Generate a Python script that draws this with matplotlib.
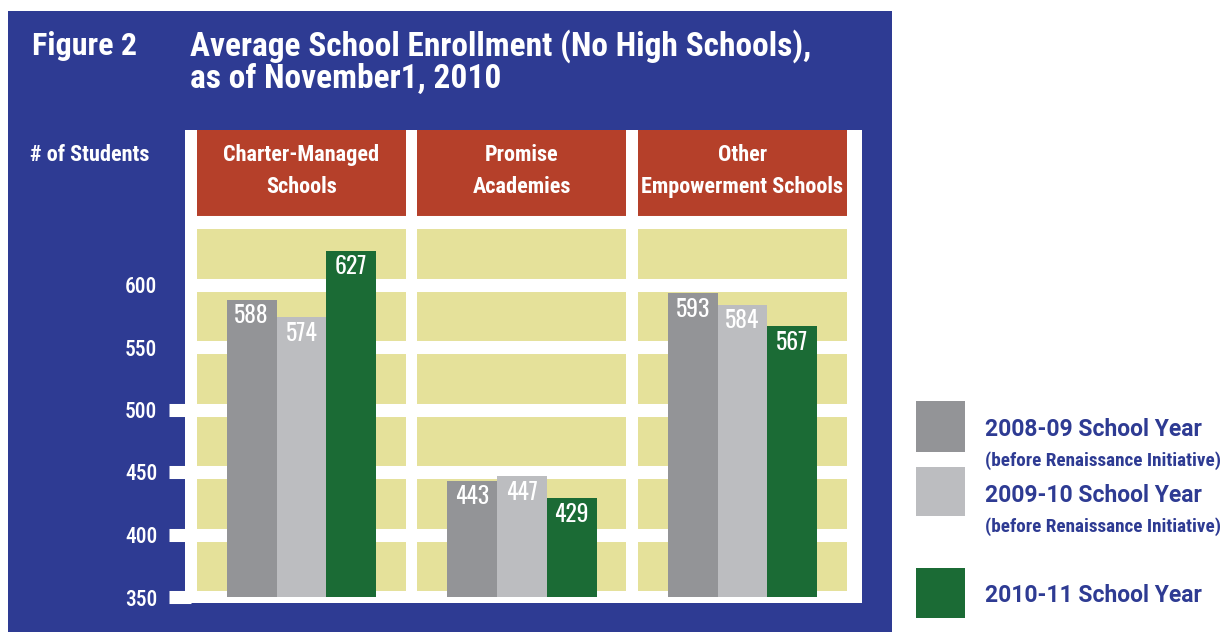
import matplotlib
matplotlib.use("Agg")
import matplotlib.pyplot as plt
from matplotlib.patches import Rectangle

# data
categories = ["Charter-Managed\nSchools", "Promise\nAcademies", "Other\nEmpowerment Schools"]
years = ["2008-09 School Year", "2009-10 School Year", "2010-11 School Year"]
notes = ["(before Renaissance Initiative)", "(before Renaissance Initiative)", ""]
y0809 = [588, 443, 593]
y0910 = [574, 447, 584]
y1011 = [627, 429, 567]
yticks = [350, 400, 450, 500, 550, 600]

BLUE = "#2E3B93"
RED = "#B5402A"
YELLOW = "#E5E19A"
colors = ["#939497", "#BCBDC0", "#1B6B35"]
COND = "Roboto Condensed"

W, H = 1231, 632
fig = plt.figure(figsize=(W / 100, H / 100), dpi=100)
fig.patch.set_facecolor("white")


def fx(x):
    return x / W


def fy(y):
    return 1 - y / H


# blue panel
fig.add_artist(Rectangle((fx(8), 0), fx(892) - fx(8), fy(11), transform=fig.transFigure,
                         facecolor=BLUE, edgecolor="none", zorder=0))

fig.text(fx(32), fy(46), "Figure 2", color="white", family=COND, weight="bold",
         fontsize=23, va="center", ha="left")
fig.text(fx(190), fy(46), "Average School Enrollment (No High Schools),", color="white",
         family=COND, weight="bold", fontsize=24, va="center", ha="left")
fig.text(fx(190), fy(79), "as of November1, 2010", color="white",
         family=COND, weight="bold", fontsize=24, va="center", ha="left")
fig.text(fx(30), fy(155), "# of Students", color="white", family=COND, weight="bold",
         fontsize=16, va="center", ha="left")

# plot area
ax = fig.add_axes([fx(185), fy(603), fx(862) - fx(185), fy(130) - fy(603)])
ax.set_facecolor("white")
ax.set_zorder(1)
ax.set_xlim(-0.528, 2.542)
ax.set_ylim(345.2, 723.6)
for s in ax.spines.values():
    s.set_visible(False)

xs = list(range(len(categories)))
colw = 0.948
ax.bar(xs, [300] * 3, bottom=350, width=colw, color=YELLOW, zorder=1)
ax.bar(xs, [80] * 3, bottom=650, width=colw, color=RED, zorder=1)

for v in range(350, 651, 50):
    ax.axhline(v, color="white", lw=9.4, zorder=2)
# tick stubs on the left
ax.hlines([350, 400, 450, 500], -0.6, -0.5, color="white", lw=9.4, clip_on=False, zorder=2)

bw = 0.226
for k, (vals, c) in enumerate(zip([y0809, y0910, y1011], colors)):
    pos = [x + (k - 1) * bw for x in xs]
    ax.bar(pos, [v - 350 for v in vals], bottom=350, width=bw, color=c, zorder=3)
    for p, v in zip(pos, vals):
        ax.text(p, v - 13, str(v), color="white", family="Oswald", weight="bold",
                fontsize=17, ha="center", va="center", zorder=4)

for x, name in zip(xs, categories):
    ax.text(x, 690.5, name, color="white", family=COND, weight="bold", fontsize=16,
            ha="center", va="center", linespacing=1.6, zorder=4)

ax.set_xticks([])
ax.set_yticks(yticks)
ax.set_yticklabels([str(t) for t in yticks], color="white", family=COND,
                   fontweight="medium", fontsize=15.5)
ax.tick_params(axis="y", length=0, pad=20)

# legend
leg_y = [(401, 452), (467, 516), (568, 618)]
text_y = [430, 496, 595]
for (t, b), c, ty, name, note in zip(leg_y, colors, text_y, years, notes):
    fig.add_artist(Rectangle((fx(916), fy(b)), fx(965) - fx(916), fy(t) - fy(b),
                             transform=fig.transFigure, facecolor=c, edgecolor="none"))
    fig.text(fx(985), fy(ty), name, color=BLUE, family="Roboto", weight="bold",
             fontsize=16.5, va="center", ha="left")
    if note:
        fig.text(fx(985), fy(ty + 31), note, color=BLUE, family=COND, weight="bold",
                 fontsize=13.8, va="center", ha="left")

fig.savefig("out.png", dpi=100, facecolor="white")
